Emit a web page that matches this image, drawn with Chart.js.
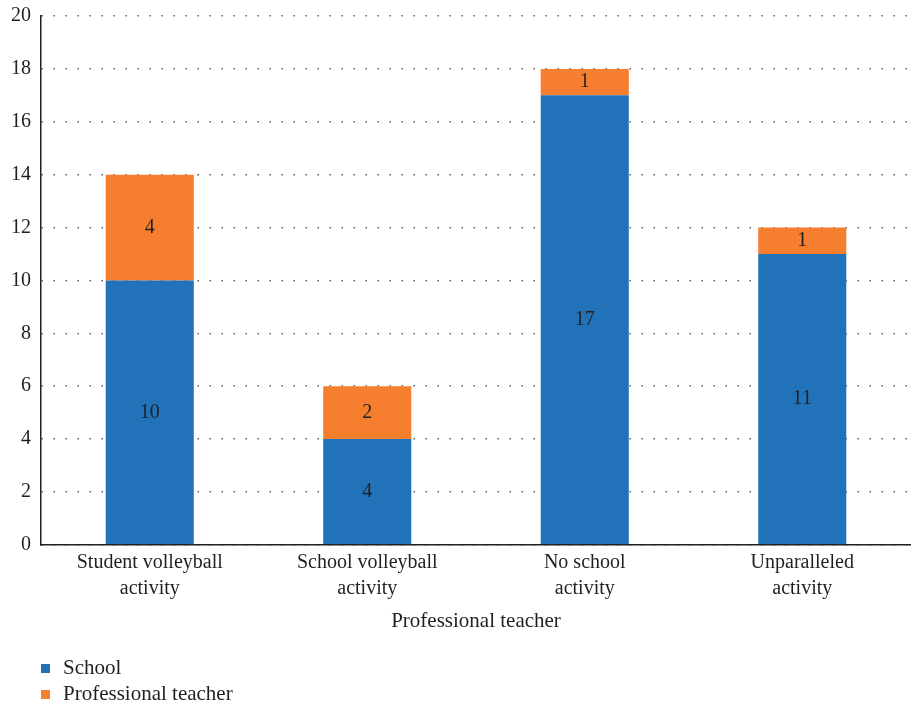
<!DOCTYPE html>
<html>
<head>
<meta charset="utf-8">
<script src="https://cdn.jsdelivr.net/npm/chart.js@4"></script>
<style>
  body { margin: 0; background: #fff; }
  #wrap { position: relative; width: 911px; height: 708px; }
  #legend { position: absolute; left: 41px; top: 654px; font-family: "Liberation Serif", serif; font-size: 21px; color: #231f20; }
  #legend div { height: 26px; line-height: 26px; }
  #legend span.box { display: inline-block; width: 9px; height: 9px; margin-right: 13px; vertical-align: 1px; }
</style>
</head>
<body>
<div id="wrap">
  <canvas id="chart" width="911" height="708"></canvas>
  <div id="legend"></div>
</div>
<script>
var categories = [
  ["Student volleyball", "activity"],
  ["School volleyball", "activity"],
  ["No school", "activity"],
  ["Unparalleled", "activity"]
];
var school = [10, 4, 17, 11];
var teacher = [4, 2, 1, 1];
var yTicks = [0, 2, 4, 6, 8, 10, 12, 14, 16, 18, 20];

var textColor = "#231f20";
var serif = "'Liberation Serif', 'DejaVu Serif', serif";

// writes each segment's value in the middle of its bar
var valueLabels = {
  id: "valueLabels",
  afterDatasetsDraw: function (chart) {
    var ctx = chart.ctx;
    ctx.save();
    ctx.font = "20px " + serif;
    ctx.fillStyle = textColor;
    ctx.textAlign = "center";
    ctx.textBaseline = "middle";
    chart.data.datasets.forEach(function (ds, i) {
      chart.getDatasetMeta(i).data.forEach(function (bar, j) {
        var mid = (bar.y + bar.base) / 2;
        ctx.fillText(ds.data[j], bar.x, mid);
      });
    });
    ctx.restore();
  }
};

var chart = new Chart("chart", {
  type: "bar",
  data: {
    labels: categories,
    datasets: [{
      label: "School",
      data: school,
      backgroundColor: "#2272b9",
      barPercentage: 0.405,
      categoryPercentage: 1
    }, {
      label: "Professional teacher",
      data: teacher,
      backgroundColor: "#f57e2f",
      barPercentage: 0.405,
      categoryPercentage: 1
    }]
  },
  options: {
    responsive: false,
    animation: false,
    layout: { padding: { left: 1, top: 0, right: 0, bottom: 74 } },
    plugins: {
      legend: { display: false },
      tooltip: { enabled: false }
    },
    scales: {
      x: {
        stacked: true,
        grid: { display: false, drawTicks: false },
        border: { display: true, color: textColor, width: 1.5 },
        ticks: {
          color: textColor,
          font: { family: serif, size: 20, lineHeight: 1.3 },
          padding: 5,
          maxRotation: 0
        },
        title: {
          display: true,
          text: "Professional teacher",
          color: textColor,
          font: { family: serif, size: 21 },
          padding: { top: 2, bottom: 0 }
        }
      },
      y: {
        stacked: true,
        min: 0,
        max: 20,
        afterBuildTicks: function (axis) {
          axis.ticks = yTicks.map(function (v) { return { value: v }; });
        },
        grid: {
          drawTicks: false,
          color: "#555555",
          lineWidth: 1.4
        },
        border: { display: true, color: textColor, width: 1.5, dash: [1.4, 10.6] },
        ticks: {
          color: textColor,
          font: { family: serif, size: 20, lineHeight: 0.6 },
          padding: 10
        }
      }
    }
  },
  plugins: [valueLabels]
});

// vertical legend below the chart, built from the datasets
var legend = document.getElementById("legend");
chart.data.datasets.forEach(function (ds) {
  var row = document.createElement("div");
  var box = document.createElement("span");
  box.className = "box";
  box.style.background = ds.backgroundColor;
  row.appendChild(box);
  row.appendChild(document.createTextNode(ds.label));
  legend.appendChild(row);
});
</script>
</body>
</html>
